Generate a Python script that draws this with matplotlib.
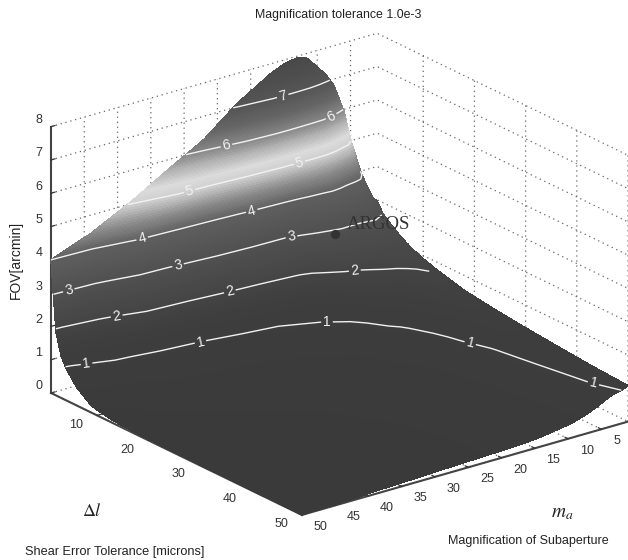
import numpy as np
import matplotlib
matplotlib.use("Agg")
import matplotlib.pyplot as plt
from matplotlib.colors import LinearSegmentedColormap
from mpl_toolkits.mplot3d import proj3d

plt.rcParams['font.family'] = ['Liberation Sans', 'DejaVu Sans']
plt.rcParams['mathtext.fontset'] = 'stix'

# --- values ---
m_values = [1, 2, 3.5, 5, 6, 7.5, 8.7, 10, 11.5, 13, 15, 17, 22, 27, 32, 38, 44, 50]
dl_values = [1, 2, 3, 4, 6, 9, 13, 18, 24, 30, 37, 44, 50]
fov_dl_1 = [2.95, 3.2, 4.0, 5.05, 5.95, 6.8, 7.2, 7.5, 7.85, 7.95, 7.88, 7.7, 7.1, 6.3, 5.75, 5.05, 4.45, 4.0]
fov_dl_2 = [2.7, 3.05, 3.7, 4.5, 4.85, 5.3, 5.8, 6.2, 6.3, 6.35, 6.45, 6.45, 5.9, 5.25, 4.95, 4.3, 2.55, 1.9]
fov_dl_3 = [2.5, 2.9, 3.45, 4.0, 4.15, 4.3, 4.55, 4.75, 4.8, 4.8, 4.7, 4.6, 4.15, 3.65, 3.15, 2.7, 1.7, 1.25]
fov_dl_4 = [2.35, 2.75, 3.2, 3.55, 3.65, 3.75, 3.9, 4.0, 3.85, 3.7, 3.3, 3.0, 2.85, 2.6, 2.3, 2.05, 1.35, 0.95]
fov_dl_6 = [2.1, 2.5, 2.85, 3.0, 2.95, 2.85, 2.85, 2.85, 2.65, 2.4, 2.1, 1.95, 1.65, 1.45, 1.2, 1.1, 0.95, 0.55]
fov_dl_9 = [1.95, 2.2, 2.45, 2.4, 2.3, 2.2, 2.1, 2.0, 1.85, 1.65, 1.4, 1.2, 1.0, 0.85, 0.75, 0.65, 0.5, 0.2]
fov_dl_13 = [1.75, 1.95, 2.1, 1.9, 1.8, 1.7, 1.6, 1.5, 1.3, 1.1, 0.95, 0.82, 0.62, 0.52, 0.45, 0.4, 0.25, 0.08]
fov_dl_18 = [1.55, 1.7, 1.75, 1.6, 1.45, 1.35, 1.2, 1.05, 0.92, 0.78, 0.65, 0.52, 0.4, 0.33, 0.28, 0.22, 0.14, 0.04]
fov_dl_24 = [1.42, 1.5, 1.5, 1.35, 1.2, 1.08, 0.9, 0.75, 0.65, 0.55, 0.46, 0.38, 0.29, 0.24, 0.2, 0.16, 0.1, 0.02]
fov_dl_30 = [1.32, 1.33, 1.33, 1.18, 1.02, 0.85, 0.72, 0.6, 0.52, 0.43, 0.37, 0.31, 0.24, 0.2, 0.17, 0.13, 0.07, 0.02]
fov_dl_37 = [1.22, 1.2, 1.17, 1.0, 0.85, 0.7, 0.6, 0.52, 0.45, 0.38, 0.32, 0.27, 0.21, 0.18, 0.15, 0.11, 0.05, 0.01]
fov_dl_44 = [1.13, 1.08, 1.03, 0.88, 0.75, 0.62, 0.54, 0.46, 0.4, 0.35, 0.3, 0.25, 0.2, 0.17, 0.14, 0.1, 0.04, 0.01]
fov_dl_50 = [1.08, 1.0, 0.93, 0.78, 0.68, 0.56, 0.48, 0.42, 0.37, 0.32, 0.27, 0.24, 0.2, 0.17, 0.13, 0.09, 0.03, 0.01]
argos_m, argos_dl, argos_fov = 11.6, 6.6, 3.0
m_ticks = [5, 10, 15, 20, 25, 30, 35, 40, 45, 50]
dl_ticks = [10, 20, 30, 40, 50]
z_ticks = [0, 1, 2, 3, 4, 5, 6, 7, 8]

Z = np.array([fov_dl_1, fov_dl_2, fov_dl_3, fov_dl_4, fov_dl_6, fov_dl_9, fov_dl_13,
              fov_dl_18, fov_dl_24, fov_dl_30, fov_dl_37, fov_dl_44, fov_dl_50])
M, D = np.meshgrid(m_values, dl_values)

W, H = 628, 560
fig = plt.figure(figsize=(W / 100, H / 100), dpi=100)
ax = fig.add_axes([0.05, 0.05, 0.8, 0.8], projection='3d', proj_type='ortho')
ax.view_init(elev=21.9, azim=52.5)
ax.set_box_aspect((411, 412, 287))
ax.set_xlim(1, 50, view_margin=0)
ax.set_ylim(1, 50, view_margin=0)
ax.set_zlim(0, 8, view_margin=0)
ax.set_xticks(m_ticks)
ax.set_yticks(dl_ticks)
ax.set_zticks(z_ticks)
ax.tick_params(labelsize=9, colors='#333333')
ax.tick_params(axis='x', pad=3)
ax.tick_params(axis='y', pad=2)
ax.tick_params(axis='z', pad=-3)
plt.setp(ax.get_xticklabels(), va='bottom', ha='left')
plt.setp(ax.get_yticklabels(), va='bottom', ha='right')
plt.setp(ax.get_zticklabels(), va='bottom', ha='center')
for axis in (ax.xaxis, ax.yaxis, ax.zaxis):
    axis.set_pane_color((1, 1, 1, 0))
    axis.pane.set_edgecolor((1, 1, 1, 0))
    axis.line.set_color('#444444')
    axis.line.set_linewidth(1.5)
    axis._axinfo['grid'].update(color='#666666', linewidth=0.9, linestyle=(0, (1, 3)))
    axis._axinfo['tick'].update(inward_factor=0.0, outward_factor=0.15, linewidth={True: 0.9, False: 0.9})


def project(x, y, z):
    fig.canvas.draw()
    xp, yp, _ = proj3d.proj_transform(np.ravel(x), np.ravel(y), np.ravel(z), ax.get_proj())
    pts = ax.transData.transform(np.column_stack([xp, yp]))
    return pts[:, 0].reshape(np.shape(x)), pts[:, 1].reshape(np.shape(x))


def place(cx, cy, size):
    ax.set_position([(cx - size / 2) / W, (cy - size / 2) / H, size / W, size / H])


# fit the axes box: left corner at (51, 393 from top), right corner at x = 628
cx, cy, size = 314.0, 280.0, 500.0
place(cx, cy, size)
px, py = project(np.array([50.0, 1.0]), np.array([1.0, 50.0]), np.array([0.0, 0.0]))
size *= 577.0 / (px[1] - px[0])
place(cx, cy, size)
px, py = project(np.array([50.0, 1.0]), np.array([1.0, 50.0]), np.array([0.0, 0.0]))
cx += 51 - px[0]
cy += (H - 393) - py[0]
place(cx, cy, size)

XP, YP = project(M, D, Z)
ax_px, ay_px = project(np.array([argos_m]), np.array([argos_dl]), np.array([argos_fov]))

over = fig.add_axes([0, 0, 1, 1])
over.set_xlim(0, W)
over.set_ylim(0, H)
over.axis('off')
over.patch.set_alpha(0)

stops = [(0, '#3a3a3a'), (1.5, '#3e3e3e'), (2.5, '#4a4a4a'), (3, '#505050'), (4, '#5e5e5e'),
         (4.5, '#8a8a8a'), (5, '#cfcfcf'), (5.3, '#dcdcdc'), (5.7, '#b0b0b0'), (6, '#888888'),
         (6.5, '#666666'), (7, '#555555'), (8, '#484848')]
cmap = LinearSegmentedColormap.from_list('fov', [(s / 8, c) for s, c in stops], N=512)
cf = over.contourf(XP, YP, Z, levels=np.linspace(0, 8, 121), cmap=cmap, vmin=0, vmax=8)
cf.set_edgecolor('face')
cf.set_linewidth(0.4)

# the strip behind the ridge (m below 3.5) is hidden, so only level 1 runs through it
line_kw = dict(colors='#f2f2f2', linewidths=1.0)
cs_low = over.contour(XP, YP, Z, levels=[1], **line_kw)
cs_high = over.contour(XP[:, 2:], YP[:, 2:], Z[:, 2:], levels=[2, 3, 4, 5, 6, 7], **line_kw)
low_pos = [(87, 367), (200, 340), (327, 325), (470, 344), (593, 385)]
high_pos = [(117, 318), (230, 292), (355, 272),
            (70, 295), (178, 265), (292, 240),
            (142, 238), (252, 212),
            (190, 193), (300, 165),
            (227, 148), (333, 120),
            (283, 97)]
lab_kw = dict(fmt='%d', fontsize=10, colors='#f2f2f2', inline_spacing=2)
over.clabel(cs_low, manual=[(x, H - y) for x, y in low_pos], **lab_kw)
over.clabel(cs_high, manual=[(x, H - y) for x, y in high_pos], **lab_kw)
over.scatter(ax_px, ay_px, s=32, color='#333333', zorder=5)
over.text(ax_px[0] + 12, ay_px[0] + 9, 'ARGOS', family='Liberation Serif', fontsize=13.5, color='#333333',
          va='center', ha='left')


def t(x, y, s, **kw):
    over.text(x, H - y, s, ha=kw.pop('ha', 'center'), va='center', **kw)


t(338, 15, 'Magnification tolerance 1.0e-3', fontsize=8.9, color='#222222')
t(16, 260, 'FOV[arcmin]', fontsize=10, rotation=90, color='#222222')
t(115, 552, 'Shear Error Tolerance [microns]', fontsize=9.2, color='#222222')
t(528, 541, 'Magnification of Subaperture', fontsize=9, color='#222222')
t(92, 512, r'$\Delta l$', fontsize=13, color='#222222')
t(562, 514, r'$m_a$', fontsize=14, color='#222222')

fig.savefig('out.png', dpi=100)
